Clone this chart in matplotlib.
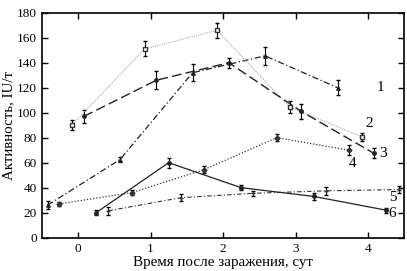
import matplotlib.pyplot as plt

plt.rcParams['font.family'] = ['Liberation Serif', 'DejaVu Serif']

# series 1: dash-dot, triangles
x1 = [-0.42, 0.58, 1.58, 2.58, 3.58]
y1 = [26, 62.5, 132, 145.5, 120]
e1 = [3, 2, 7, 7, 6]
# series 2: grey dotted, squares
x2 = [-0.08, 0.92, 1.92, 2.92, 3.92]
y2 = [90.5, 151, 166, 104.5, 80.5]
e2 = [4, 6, 6, 5, 3]
# series 3: dashed
x3 = [0.08, 1.08, 2.08, 3.08, 4.08]
y3 = [97, 126, 140, 101, 67.5]
e3 = [5, 7, 4, 6, 4]
# series 4: dotted
x4 = [-0.26, 0.74, 1.74, 2.74, 3.74]
y4 = [27, 36, 54.5, 80, 70]
e4 = [1.5, 2, 3, 3, 4]
# series 5: dash-dot, pluses
x5 = [0.42, 1.42, 2.42, 3.42, 4.42]
y5 = [21.5, 32, 35.5, 37.5, 38.5]
e5 = [3, 3, 2, 3, 3]
# series 6: solid
x6 = [0.25, 1.25, 2.25, 3.25, 4.25]
y6 = [20, 60, 40, 33, 22]
e6 = [2, 4, 2, 3, 2]

labels = ['1', '2', '3', '4', '5', '6']
label_x = [4.17, 4.02, 4.2, 3.78, 4.34, 4.33]
label_y = [120.5, 91, 67.5, 59.5, 32.5, 19]

fig = plt.figure(figsize=(4.07, 2.71), dpi=100)
ax = fig.add_axes([0.1025, 0.123, 0.891, 0.83])

kw = dict(capsize=1.5, elinewidth=0.8, ecolor='black', markersize=2.5)
ax.errorbar(x1, y1, yerr=e1, color='#222222', ls=(0, (5, 2, 1, 2)), lw=0.9, marker='^', **kw)
ax.errorbar(x2, y2, yerr=e2, color='#aaaaaa', ls=(0, (1, 1)), lw=0.8, marker='s', mfc='white', mec='#333333', **kw)
ax.errorbar(x3, y3, yerr=e3, color='#222222', ls=(0, (7, 3)), lw=1.0, marker='o', **kw)
ax.errorbar(x4, y4, yerr=e4, color='#333333', ls=(0, (1, 1.5)), lw=0.9, marker='D', **kw)
ax.errorbar(x5, y5, yerr=e5, color='#333333', ls=(0, (4, 2, 1, 2)), lw=0.8, marker='+', **kw)
ax.errorbar(x6, y6, yerr=e6, color='#222222', ls='-', lw=0.9, marker='o', **kw)

for t, lx, ly in zip(labels, label_x, label_y):
    ax.text(lx, ly, t, fontsize=11, ha='center', va='center')

ax.set_xlim(-0.5, 4.5)
ax.set_ylim(0, 180)
ax.set_xticks([0, 1, 2, 3, 4])
ax.set_yticks(range(0, 181, 20))
ax.tick_params(direction='in', top=True, right=True, labelsize=9.5, length=4, width=1)
for s in ax.spines.values():
    s.set_linewidth(1.2)
ax.set_xlabel('Время после заражения, сут', fontsize=10.8, labelpad=1)
ax.set_ylabel('Активность, IU/т', fontsize=10.8, labelpad=1)

fig.savefig('out.png', dpi=100)
